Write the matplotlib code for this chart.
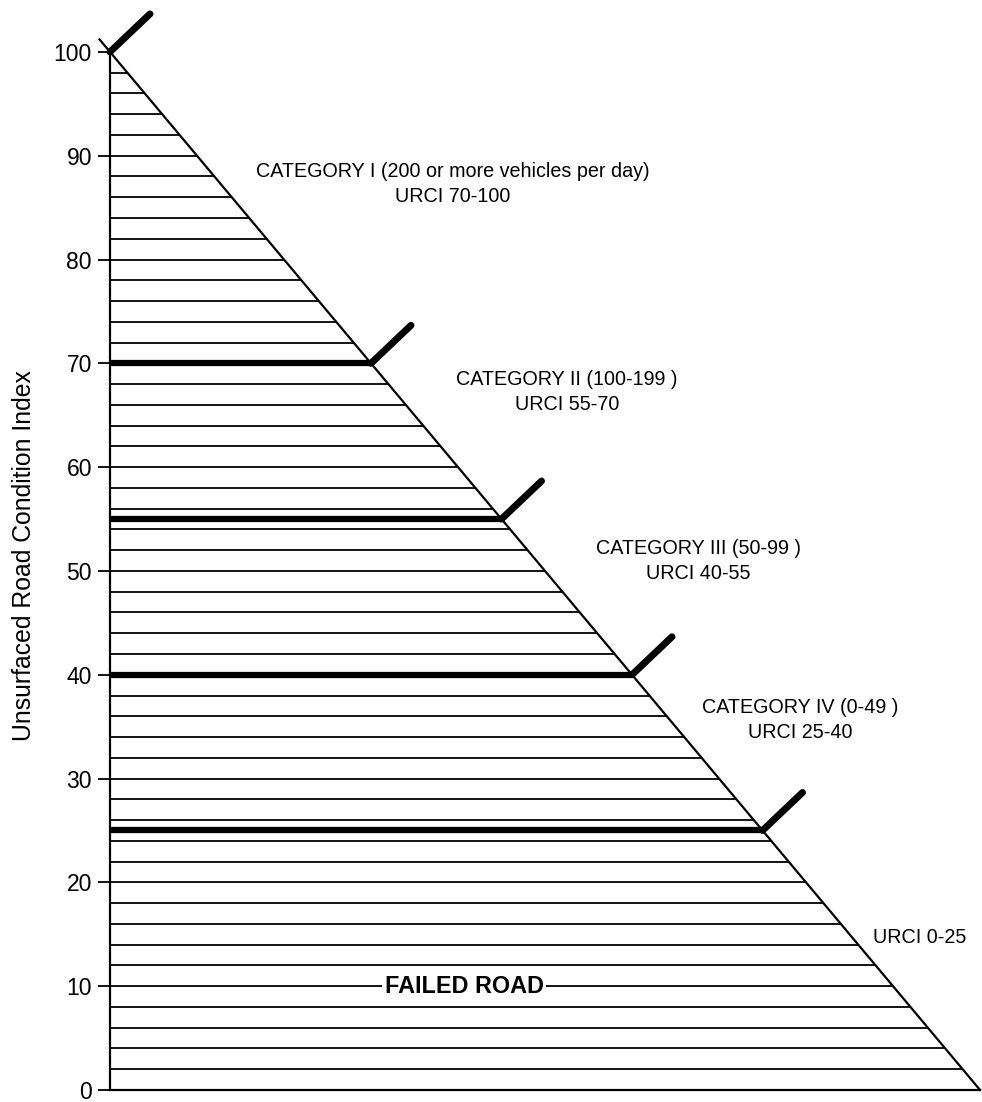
import matplotlib
matplotlib.use("Agg")
import matplotlib.pyplot as plt
import numpy as np

plt.rcParams['font.family'] = ['Liberation Sans', 'DejaVu Sans']

# data
y_max = 100
hatch_levels = list(range(2, 100, 2))
category_bounds = [70, 55, 40, 25]
y_ticks = list(range(0, 101, 10))
category_labels = [
    "CATEGORY I (200 or more vehicles per day)\nURCI 70-100",
    "CATEGORY II (100-199 )\nURCI 55-70",
    "CATEGORY III (50-99 )\nURCI 40-55",
    "CATEGORY IV (0-49 )\nURCI 25-40",
    "URCI 0-25",
]
label_levels = [87.3, 67.2, 51.0, 35.6, 14.7]
label_x = [39.4, 52.5, 67.6, 79.3, 93.1]
failed_label = "FAILED ROAD"
failed_level = 10


def edge(y):
    # x where the diagonal crosses level y
    return y_max - y


fig = plt.figure(figsize=(9.82, 11.02), dpi=100)
ax = fig.add_axes([0.112, 0.0109, 0.886, 0.942])
ax.set_xlim(0, 100)
ax.set_ylim(0, 100)

# hatch lines
for lv in hatch_levels:
    if lv in category_bounds:
        continue
    ax.plot([0, edge(lv)], [lv, lv], color='black', lw=1.3, solid_capstyle='butt')

# diagonal (a bit past 100 at the top)
ax.plot([edge(101.2), edge(0)], [101.2, 0], color='black', lw=1.6, clip_on=False)

# thick category lines and slash marks
for lv in category_bounds:
    ax.plot([0, edge(lv)], [lv, lv], color='black', lw=4.5, solid_capstyle='butt')
for lv in [y_max] + category_bounds:
    ax.annotate('', xy=(edge(lv), lv), xytext=(40, 38), textcoords='offset pixels',
                arrowprops=dict(arrowstyle='-', lw=5, color='black',
                                shrinkA=0, shrinkB=0, capstyle='round'),
                annotation_clip=False)

# category text
for txt, lx, ly in zip(category_labels, label_x, label_levels):
    ax.text(lx, ly, txt, ha='center', va='center', fontsize=14.2,
            linespacing=1.4)

ax.text(40.7, failed_level, failed_label, ha='center', va='center',
        fontsize=16.8, fontweight='bold',
        bbox=dict(facecolor='white', edgecolor='none', pad=1.5))

ax.set_yticks(y_ticks)
ax.set_xticks([])
ax.tick_params(axis='y', length=9, width=1.3, labelsize=16.5, pad=4)
for s in ['top', 'right']:
    ax.spines[s].set_visible(False)
ax.spines['left'].set_linewidth(1.6)
ax.spines['bottom'].set_linewidth(1.6)
ax.set_ylabel('Unsurfaced Road Condition Index', fontsize=17.8)
ax.yaxis.set_label_coords(-0.085, 0.515)

fig.savefig('out.png', dpi=100)
